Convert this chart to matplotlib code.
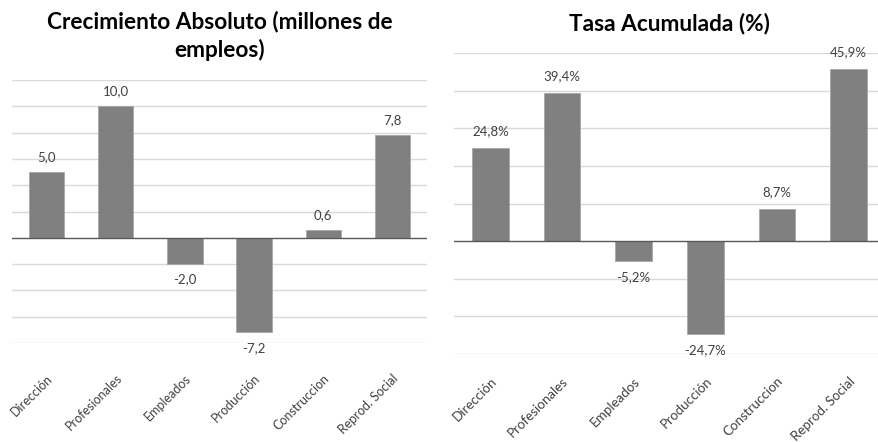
import matplotlib.pyplot as plt

categorias = ["Dirección", "Profesionales", "Empleados", "Producción",
              "Construccion", "Reprod. Social"]
crecimiento = [5.0, 10.0, -2.0, -7.2, 0.6, 7.8]
tasa = [24.8, 39.4, -5.2, -24.7, 8.7, 45.9]

plt.rcParams['font.family'] = ['Lato', 'DejaVu Sans']

W, H = 879, 442


def panel(fig, rect_px, valores, ylim, paso, titulo, fmt, title_y,
          tick_fs, tick_pad):
    x0, y0, x1, y1 = rect_px
    ax = fig.add_axes([x0 / W, 1 - y1 / H, (x1 - x0) / W, (y1 - y0) / H])
    xs = range(len(valores))
    ax.bar(xs, valores, width=0.51, color="#808080",
           edgecolor="#a6a6a6", linewidth=0.6, zorder=3)
    ax.set_xlim(-0.5, len(valores) - 0.5)
    ax.set_ylim(*ylim)
    ticks = range(ylim[0], ylim[1] + 1, paso)
    for t in ticks:
        if t != 0:
            ax.axhline(t, color="#d9d9d9", linewidth=1, zorder=1)
    ax.axhline(0, color="#595959", linewidth=1, zorder=4)
    for s in ax.spines.values():
        s.set_visible(False)
    ax.set_yticks([])
    ax.set_xticks(list(xs))
    ax.set_xticklabels(categorias, rotation=45, ha="right",
                       rotation_mode="anchor", fontsize=tick_fs,
                       color="#404040")
    ax.tick_params(axis="x", length=0, pad=tick_pad)
    rango = ylim[1] - ylim[0]
    for x, v in zip(xs, valores):
        txt = fmt(v)
        if v >= 0:
            ax.text(x, v + rango * 0.035, txt, ha="center", va="bottom",
                    fontsize=9.5, color="#404040", zorder=5)
        else:
            ax.text(x, v - rango * 0.035, txt, ha="center", va="top",
                    fontsize=9.5, color="#404040", zorder=5)
    fig.text((x0 + x1) / 2 / W, 1 - title_y / H, titulo, ha="center",
             va="center", fontsize=16.3, fontweight="bold", color="black",
             linespacing=1.35)
    return ax


def main():
    fig = plt.figure(figsize=(W / 100, H / 100), dpi=100)
    panel(fig, (12, 80, 427, 343), crecimiento, (-8, 12), 2,
          "Crecimiento Absoluto (millones de\nempleos)",
          lambda v: f"{v:.1f}".replace(".", ","), 36, 9, 21)
    panel(fig, (454.5, 53.3, 884.5, 354), tasa, (-30, 50), 10,
          "Tasa Acumulada (%)",
          lambda v: f"{v:.1f}%".replace(".", ","), 23, 9.6, 15)
    fig.savefig("out.png", dpi=100)


if __name__ == "__main__":
    main()
